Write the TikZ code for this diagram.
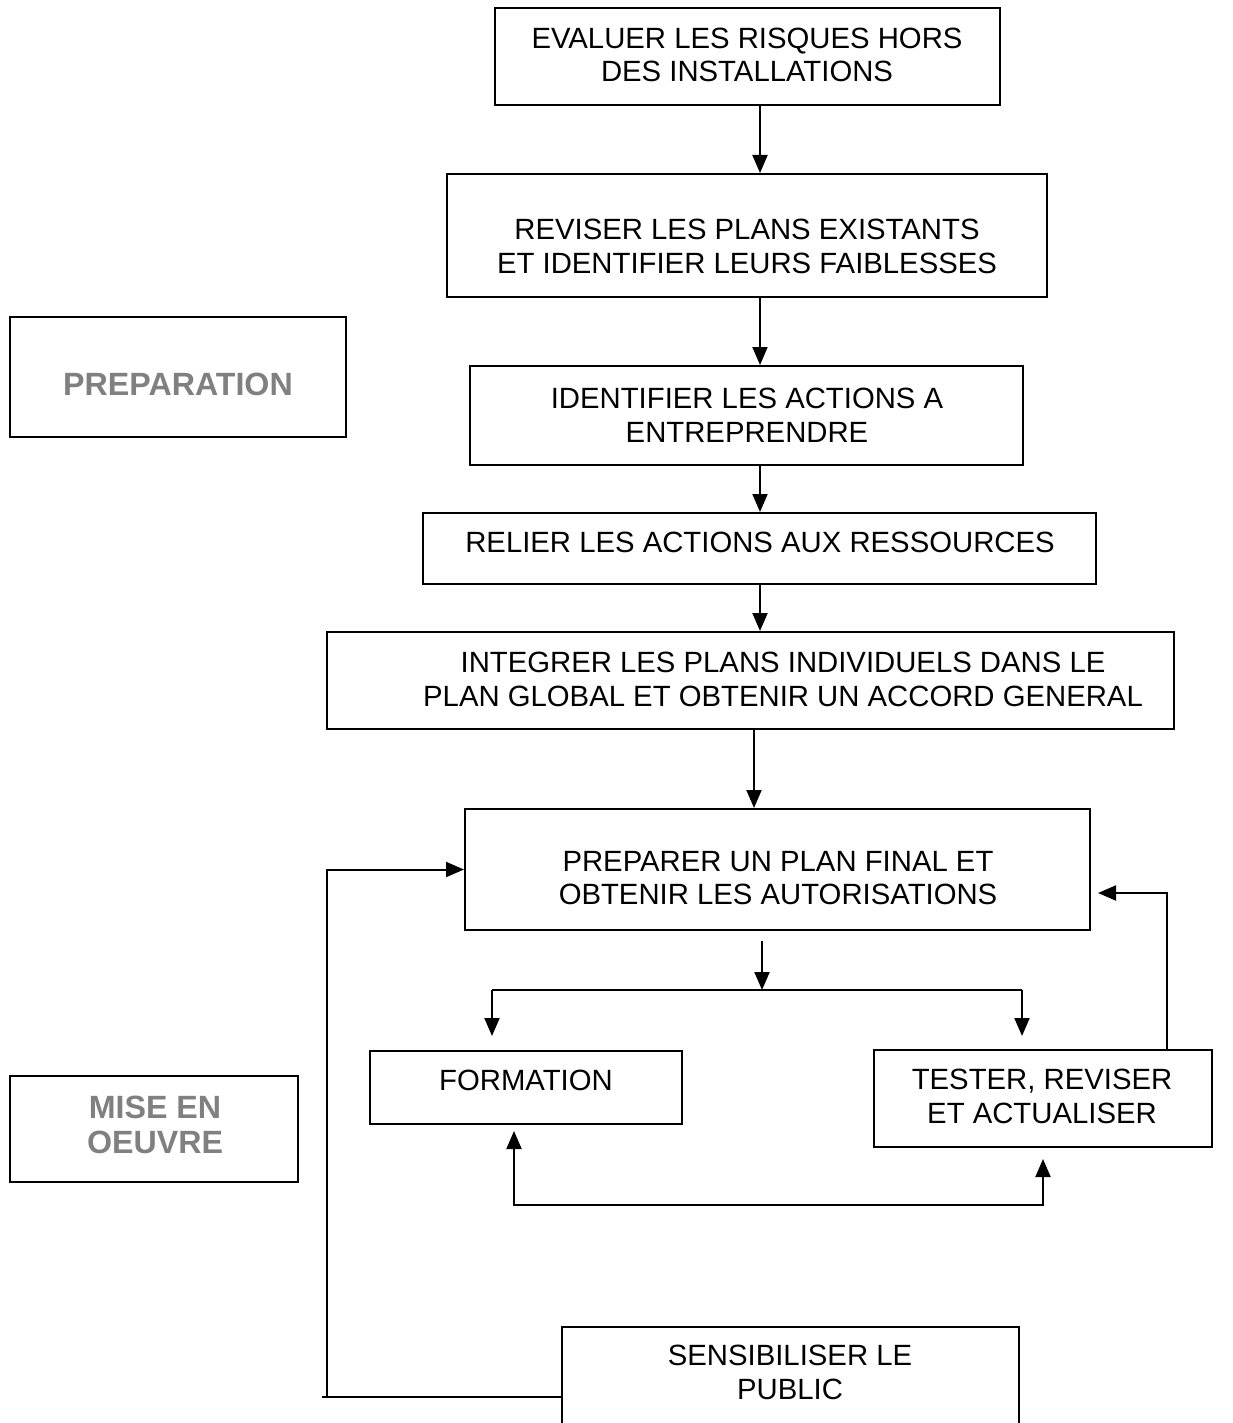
\documentclass[tikz,border=0pt]{standalone}
\usepackage{fontspec}
\setmainfont{Liberation Sans}
\usetikzlibrary{arrows.meta}
\definecolor{phasegray}{RGB}{128,128,128}
\tikzset{
  box/.style={draw, line width=2pt, inner sep=0pt},
  txt/.style={align=center, inner sep=0pt, font=\fontsize{29.3}{33.5}\selectfont},
  phase/.style={align=center, inner sep=0pt, text=phasegray, font=\fontsize{32.2}{35}\selectfont\bfseries},
}
\begin{document}
\begin{tikzpicture}[x=1pt,y=-1pt,>={Triangle[length=18pt,width=15pt]},line width=2pt]
		\useasboundingbox (0,0) rectangle (1232,1423);
		% phases
		\node[box, minimum width=336pt, minimum height=120pt] (prep) at (178,377) {};
		\node[phase] (prept) at (178,384) {PREPARATION};
		\node[box, minimum width=288pt, minimum height=106pt] (mise) at (154,1129) {};
		\node[phase] (miset) at (155,1124.5) {MISE EN\\OEUVRE};
		% steps
		\node[box, minimum width=505pt, minimum height=97pt] (ev) at (747.5,56.5) {};
		\node[txt] (evt) at (747,55) {EVALUER LES RISQUES HORS\\DES INSTALLATIONS};
		\node[box, minimum width=600pt, minimum height=123pt] (rev) at (747,235.5) {};
		\node[txt] (revt) at (747,246.5) {REVISER LES PLANS EXISTANTS\\ET IDENTIFIER LEURS FAIBLESSES};
		\node[box, minimum width=553pt, minimum height=99pt] (ide) at (746.5,415.5) {};
		\node[txt] (idet) at (747,415.5) {IDENTIFIER LES ACTIONS A\\ENTREPRENDRE};
		\node[box, minimum width=673pt, minimum height=71pt] (rel) at (759.5,548.5) {};
		\node[txt] (relt) at (760,542) {RELIER LES ACTIONS AUX RESSOURCES};
		\node[box, minimum width=847pt, minimum height=97pt] (int) at (750.5,680.5) {};
		\node[txt] (intt) at (783,679.5) {INTEGRER LES PLANS INDIVIDUELS DANS LE\\PLAN GLOBAL ET OBTENIR UN ACCORD GENERAL};
		\node[box, minimum width=625pt, minimum height=121pt] (pre) at (777.5,869.5) {};
		\node[txt] (pret) at (778,878) {PREPARER UN PLAN FINAL ET\\OBTENIR LES AUTORISATIONS};
		\node[box, minimum width=312pt, minimum height=73pt] (form) at (526,1087.5) {};
		\node[txt] (formt) at (526,1080) {FORMATION};
		\node[box, minimum width=338pt, minimum height=97pt] (test) at (1043,1098.5) {};
		\node[txt] (testt) at (1042,1096.5) {TESTER, REVISER\\ET ACTUALISER};
		\node[box, minimum width=457pt, minimum height=110pt] (sens) at (790.5,1382) {};
		\node[txt] (senst) at (790,1372.5) {SENSIBILISER LE\\PUBLIC};
		% connectors
		\coordinate (spine) at (760,0);
		\coordinate (drop) at (754,0);
		\coordinate (split) at (762,990);
		\coordinate (fl) at (492,990);
		\coordinate (tr) at (1022,990);
		\coordinate (loop) at (514,1205);
		\coordinate (back) at (1167,893);
		\coordinate (pub) at (327,1397);
		\draw[->] (ev.south -| spine) -- (rev.north -| spine);
		\draw[->] (rev.south -| spine) -- (ide.north -| spine);
		\draw[->] (ide.south -| spine) -- (rel.north -| spine);
		\draw[->] (rel.south -| spine) -- (int.north -| spine);
		\draw[->] (int.south -| drop) -- (pre.north -| drop);
		\draw[->] ([yshift=-10pt]pre.south -| split) -- (split);
		\draw (fl) -- (tr);
		\draw[->] (fl) -- ([yshift=14pt]form.north -| fl);
		\draw[->] (tr) -- ([yshift=13pt]test.north -| tr);
		\draw[<->] ([yshift=-6pt]form.south -| loop) -- (loop) -| ([yshift=-11pt]test.south);
		\draw[->] (test.north -| back) -- (back) -- ([xshift=7pt]pre.east |- back);
		\draw ([xshift=-5pt]pub) -- (sens.west |- pub);
		\draw[->] (pub) |- (pre.west);
\end{tikzpicture}
\end{document}
